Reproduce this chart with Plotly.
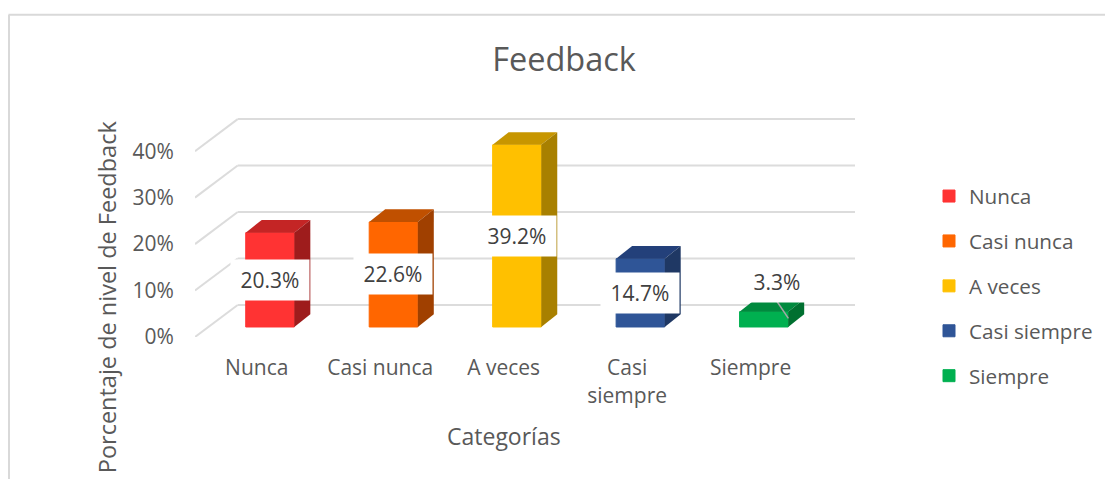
import plotly.graph_objects as go

# ---- data ----
categories = ["Nunca", "Casi nunca", "A veces", "Casi siempre", "Siempre"]
tick_labels = ["Nunca", "Casi nunca", "A veces", "Casi<br>siempre", "Siempre"]
values = [20.3, 22.6, 39.2, 14.7, 3.3]
y_ticks = [0, 10, 20, 30, 40]
y_tick_labels = ["0%", "10%", "20%", "30%", "40%"]
front_colors = ["#FF3333", "#FF6600", "#FFC000", "#2F5597", "#00B050"]
top_colors = ["#C42525", "#C05000", "#C79600", "#23407A", "#008A3E"]
side_colors = ["#9E1C1C", "#A04000", "#A88000", "#1F3864", "#007030"]
label_dragged_y = [None, None, None, None, 11.8]

# ---- geometry (pixels of the 1105x479 canvas) ----
W, H = 1105, 479
LEFT, RIGHT_BACK, BOTTOM, TOP = 195.0, 855.0, 336.7, 110.0
PITCH = 123.46
PX_PER_PCT = 4.64
X_MAX = (RIGHT_BACK - LEFT) / PITCH - 0.5
Y_MAX = (BOTTOM - TOP) / PX_PER_PCT

WALL_DX, WALL_DY = 42.7 / PITCH, 32.0 / PX_PER_PCT   # floor depth
BASE_DX, BASE_DY = 13.3 / PITCH, 10.0 / PX_PER_PCT   # bars stand inside the floor
BAR_DX, BAR_DY = 16.0 / PITCH, 12.7 / PX_PER_PCT     # bar depth
BAR_W = 48.6 / PITCH
LABEL_SHIFT_X = [0, 0, 0, 0, 13.0 / PITCH]           # moved "3.3%" label

GRAY = "#595959"
FONT = "Open Sans"


def px_x(p):
    return (p - LEFT) / (RIGHT_BACK - LEFT)


def px_y(p):
    return (BOTTOM - p) / (BOTTOM - TOP)


fig = go.Figure()

# front faces
for i, (name, v) in enumerate(zip(categories, values)):
    fig.add_trace(go.Bar(
        x=[i + BASE_DX], y=[v], base=BASE_DY, width=BAR_W, name=name,
        legendgroup=name,
        marker=dict(color=front_colors[i], line=dict(color=front_colors[i], width=1)),
        hovertemplate=f"{name}: {v}%<extra></extra>",
    ))

# top and side faces, derived from the same values
for i, v in enumerate(values):
    x0 = i + BASE_DX - BAR_W / 2
    x1 = i + BASE_DX + BAR_W / 2
    t = BASE_DY + v
    fig.add_trace(go.Scatter(
        x=[x0, x0 + BAR_DX, x1 + BAR_DX, x1, x0],
        y=[t, t + BAR_DY, t + BAR_DY, t, t],
        mode="lines", fill="toself", fillcolor=top_colors[i],
        line=dict(width=0), showlegend=False, hoverinfo="skip"))
    fig.add_trace(go.Scatter(
        x=[x1, x1 + BAR_DX, x1 + BAR_DX, x1, x1],
        y=[BASE_DY, BASE_DY + BAR_DY, t + BAR_DY, t, BASE_DY],
        mode="lines", fill="toself", fillcolor=side_colors[i],
        line=dict(width=0), showlegend=False, hoverinfo="skip"))

# leader line of the moved "3.3%" label
fig.add_trace(go.Scatter(
    x=[4 + BASE_DX + LABEL_SHIFT_X[4], 4 + BASE_DX + 24.5 / PITCH],
    y=[label_dragged_y[4] - 4.1, label_dragged_y[4] - 7.8],
    mode="lines", line=dict(color="#A6A6A6", width=1.5),
    showlegend=False, hoverinfo="skip"))

# 3D gridlines: floor diagonal plus back wall
shapes = []
for v in y_ticks:
    common = dict(type="line", xref="x", yref="y", layer="below",
                  line=dict(color="#DCDCDC", width=2))
    shapes.append(dict(x0=-0.5, y0=v, x1=-0.5 + WALL_DX, y1=v + WALL_DY, **common))
    shapes.append(dict(x0=-0.5 + WALL_DX, y0=v + WALL_DY, x1=X_MAX, y1=v + WALL_DY, **common))

# outer chart frame (only top and left are visible)
frame = dict(type="line", xref="paper", yref="paper", layer="below",
             line=dict(color="#D9D9D9", width=2))
shapes.append(dict(x0=px_x(8.5), y0=px_y(15), x1=px_x(1105), y1=px_y(15), **frame))
shapes.append(dict(x0=px_x(9), y0=px_y(15), x1=px_x(9), y1=px_y(479), **frame))

# data labels
annotations = []
for i, v in enumerate(values):
    ly = label_dragged_y[i] if label_dragged_y[i] is not None else BASE_DY + v / 2
    annotations.append(dict(
        x=i + BASE_DX + LABEL_SHIFT_X[i], y=ly, xref="x", yref="y", text=f"{v:.1f}%",
        showarrow=False, width=76, height=38, bgcolor="white", align="center",
        valign="middle", xanchor="center", yanchor="middle",
        font=dict(family=FONT, size=21, color="#404040")))

annotations.append(dict(
    x=px_x(504), y=px_y(436), xref="paper", yref="paper", text="Categorías",
    xanchor="center", yanchor="middle",
    showarrow=False, font=dict(family=FONT, size=23, color=GRAY)))
annotations.append(dict(
    x=px_x(107), y=px_y(297), xref="paper", yref="paper",
    text="Porcentaje de nivel de Feedback", textangle=-90,
    xanchor="center", yanchor="middle",
    showarrow=False, font=dict(family=FONT, size=23.5, color=GRAY)))

fig.update_layout(
    width=W, height=H,
    margin=dict(l=LEFT, r=W - RIGHT_BACK, t=TOP, b=H - BOTTOM, autoexpand=False),
    paper_bgcolor="white", plot_bgcolor="rgba(0,0,0,0)",
    title=dict(text="Feedback", x=564 / W, xanchor="center", y=1 - 60 / H, yanchor="middle",
               font=dict(family=FONT, size=32.5, color=GRAY)),
    showlegend=True,
    legend=dict(x=px_x(929), xanchor="left", y=px_y(176), yanchor="top",
                font=dict(family=FONT, size=20.7, color=GRAY), maxheight=300,
                tracegroupgap=15, traceorder="grouped", bgcolor="rgba(0,0,0,0)"),
    shapes=shapes, annotations=annotations, barmode="overlay",
    xaxis=dict(range=[-0.5, X_MAX], tickmode="array", tickvals=list(range(5)),
               ticktext=tick_labels, showgrid=False, zeroline=False, showline=False,
               ticks="outside", ticklen=12, tickcolor="rgba(0,0,0,0)", fixedrange=True,
               tickangle=0, tickfont=dict(family=FONT, size=21, color=GRAY)),
    yaxis=dict(range=[0, Y_MAX], tickmode="array", tickvals=y_ticks, ticktext=y_tick_labels,
               showgrid=False, zeroline=False, showline=False,
               ticks="outside", ticklen=16, tickcolor="rgba(0,0,0,0)", fixedrange=True,
               tickfont=dict(family=FONT, size=21, color=GRAY)),
)

fig.write_html("out.html", config=dict(displayModeBar=False),
               post_script="document.body.style.margin='0';document.body.style.overflow='hidden';")
